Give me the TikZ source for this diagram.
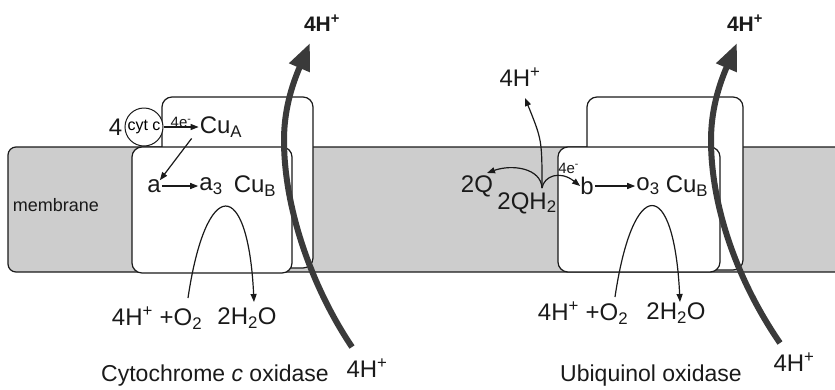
\documentclass[tikz,border=0pt]{standalone}
\usepackage{fontspec}
\setmainfont{Liberation Sans}
\usetikzlibrary{positioning,arrows.meta}
\definecolor{ink}{HTML}{1A1A1A}
\definecolor{lipid}{HTML}{CDCDCD}
\definecolor{pumpgray}{HTML}{3A3A3A}
\newcommand{\sub}[1]{\textsubscript{#1}}
\newcommand{\hplus}{4H\textsuperscript{+}}

\begin{document}
\begin{tikzpicture}[x=1pt,y=-1pt,
  lbl/.style={inner sep=1pt,text=ink,font=\fontsize{24}{26}\selectfont},
  bold/.style={inner sep=1pt,text=ink,font=\bfseries\fontsize{21}{24}\selectfont},
  small/.style={inner sep=1pt,text=ink,font=\fontsize{15}{16}\selectfont},
  title/.style={inner sep=1pt,text=ink,font=\fontsize{23}{26}\selectfont},
  unit/.style={draw=ink,line width=1.2pt,fill=white,rounded corners=10pt,inner sep=0pt},
  arr/.style={-{Triangle[length=8pt,width=6pt]},draw=ink,line width=1.2pt},
  pump/.style={-{Triangle[length=27pt,width=21pt]},draw=pumpgray,line width=6pt}]
\useasboundingbox (0,0) rectangle (835,389);

% membrane band
\draw[draw=ink,line width=1.2pt,fill=lipid,rounded corners=8pt]
  (840,147) -- (8,147) -- (8,272) -- (840,272);
\node[inner sep=1pt,text=ink,font=\fontsize{18}{20}\selectfont] (mem) at (56,205) {membrane};

% cytochrome c oxidase
\node[unit,minimum width=151pt,minimum height=171pt] (backL) at (237.5,182.5) {};
\node[unit,minimum width=160pt,minimum height=126pt] (frontL) at (212,210) {};
\node[circle,draw=ink,line width=1pt,fill=white,minimum size=38pt,inner sep=0pt,
  font=\fontsize{16}{17}\selectfont] (cytc) at (144,127) {cyt c};
\node[lbl,left=1pt of cytc] (four) {4};
\node[lbl] (cua) at (221,127) {Cu\sub{A}};
\node[lbl] (a) at (154,186) {a};
\node[lbl] (a3) at (211,186) {a\sub{3}};
\node[lbl] (cub) at (255,186) {Cu\sub{B}};
\node[lbl] (reacL) at (157,318) {\hplus{} +O\sub{2}};
\node[lbl] (prodL) at (247,318) {2H\sub{2}O};
\draw[arr] (cytc) -- node[small,above=-2pt] {4e\textsuperscript{-}} (cua);
\draw[arr] ([xshift=-7pt]cua.south west) -- ([xshift=-2pt,yshift=-2pt]a.north east);
\draw[arr] (a) -- (a3);
\draw[arr] ([shift={(31,-20)}]reacL.center) .. controls +(18,-122) and +(-6,-126) .. ([shift={(7,-16)}]prodL.center);

% ubiquinol oxidase
\node[unit,minimum width=156pt,minimum height=173pt] (backR) at (665,183.5) {};
\node[unit,minimum width=162pt,minimum height=125pt] (frontR) at (639,209.5) {};
\node[lbl] (hq) at (520,77) {\hplus};
\node[lbl] (q) at (477,186) {2Q};
\node[lbl] (qh2) at (527,203) {2QH\sub{2}};
\coordinate (fork) at ([shift={(15,-15)}]qh2.center);
\node[lbl] (b) at (587,186) {b};
\node[lbl] (o3) at (648,186) {o\sub{3}};
\node[lbl] (cubR) at (687,186) {Cu\sub{B}};
\node[lbl] (reacR) at (583,313) {\hplus{} +O\sub{2}};
\node[lbl] (prodR) at (676,313) {2H\sub{2}O};
\draw[arr] (fork) .. controls (542,140) .. ([shift={(5,21)}]hq.center);
\draw[arr] (fork) .. controls (541,168) and (512,164) .. ([shift={(10,-13)}]q.center);
\draw[arr] (fork) .. controls (544,176) and (560,170) .. node[small,above=4pt,pos=0.8] {4e\textsuperscript{-}} ([xshift=1pt]b.west);
\draw[arr] (b) -- (o3);
\draw[arr] ([shift={(32,-16)}]reacR.center) .. controls +(18,-122) and +(-6,-126) .. ([shift={(4,-11)}]prodR.center);

% proton pumps
\node[bold] (houtL) at (322,23) {\hplus};
\node[lbl] (hinL) at (367,368) {\hplus};
\draw[pump] ([shift={(-15,-21)}]hinL.center) .. controls (313,289) and (284,210) .. (284,140)
  .. controls (284,110) and (292,85) .. ([shift={(-12,20)}]houtL.center);
\node[bold] (houtR) at (745,23) {\hplus};
\node[lbl] (hinR) at (794,362) {\hplus};
\draw[pump] ([shift={(-14,-19)}]hinR.center) .. controls (740,285) and (711,210) .. (711,140)
  .. controls (711,110) and (719,85) .. ([shift={(-8,20)}]houtR.center);

\node[title] (titL) at (215,376) {Cytochrome \textit{c} oxidase};
\node[title] (titR) at (651,376) {Ubiquinol oxidase};
\end{tikzpicture}
\end{document}
